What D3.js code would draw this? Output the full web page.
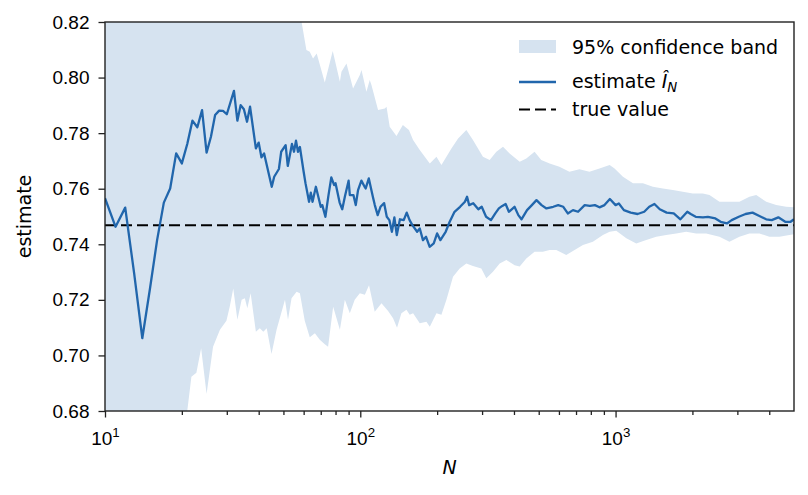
<!DOCTYPE html>
<html>
<head>
<meta charset="utf-8">
<script src="https://cdn.jsdelivr.net/npm/d3@7"></script>
<style>
  body { margin: 0; background: #fff; }
  svg { display: block; font-family: "DejaVu Sans", sans-serif; }
</style>
</head>
<body>
<svg id="chart" width="808" height="495"></svg>
<script>
// running estimate of the integral
const estN = [10,11,12,13,14,15,16,17,18,19,20,21,22,23,24,25,26,27,28,29,30,32,33,34,35,36,37,39,40,41,42,45,46,48,49,51,52,54,55,56,57,58,60,61,63,64,65,67,70,71,73,75,77,79,80,83,85,87,90,91,94,96,98,101,104,105,108,112,114,117,120,124,127,130,133,136,139,143,148,152,156,160,167,171,176,181,187,194,200,206,216,224,234,246,257,262,267,277,290,299,311,325,338,349,360,371,382,402,416,428,450,470,490,513,536,570,596,624,650,681,713,757,793,830,865,905,950,1000,1030,1078,1147,1220,1295,1355,1420,1490,1585,1690,1795,1910,1970,2060,2200,2300,2460,2580,2730,2850,3040,3230,3440,3660,3890,4090,4340,4620,4850,5000];
const estVal = [0.7566,0.7463,0.7532,0.7297,0.7062,0.7240,0.7415,0.7550,0.7601,0.7727,0.7691,0.7761,0.7845,0.7821,0.7883,0.7730,0.7787,0.7865,0.7881,0.7880,0.7868,0.7952,0.7845,0.7901,0.7886,0.7841,0.7895,0.7745,0.7766,0.7713,0.7727,0.7607,0.7643,0.7671,0.7733,0.7757,0.7682,0.7761,0.7733,0.7773,0.7733,0.7750,0.7661,0.7620,0.7553,0.7586,0.7553,0.7607,0.7535,0.7541,0.7499,0.7574,0.7641,0.7613,0.7620,0.7550,0.7526,0.7571,0.7629,0.7577,0.7577,0.7541,0.7595,0.7629,0.7607,0.7601,0.7637,0.7571,0.7541,0.7505,0.7535,0.7548,0.7499,0.7487,0.7445,0.7497,0.7433,0.7490,0.7487,0.7514,0.7487,0.7469,0.7445,0.7457,0.7415,0.7427,0.7391,0.7403,0.7439,0.7415,0.7445,0.7481,0.7517,0.7535,0.7553,0.7571,0.7541,0.7548,0.7526,0.7535,0.7499,0.7487,0.7511,0.7529,0.7538,0.7545,0.7517,0.7535,0.7505,0.7490,0.7523,0.7541,0.7559,0.7541,0.7529,0.7535,0.7541,0.7535,0.7511,0.7523,0.7517,0.7541,0.7538,0.7541,0.7533,0.7541,0.7563,0.7541,0.7547,0.7523,0.7514,0.7509,0.7517,0.7535,0.7545,0.7526,0.7514,0.7511,0.7490,0.7517,0.7509,0.7499,0.7497,0.7499,0.7493,0.7481,0.7475,0.7487,0.7499,0.7509,0.7514,0.7502,0.7490,0.7487,0.7497,0.7481,0.7481,0.7490];

// upper edge of the 95% band (values above 0.82 are cut off in the picture, estimated)
const upN = [10,12,15,20,25,30,40,50,55,58.9,61.5,63.4,65.3,67.5,72.6,78,83.2,84.4,88.3,93.7,99.6,101.1,105.7,108.9,110.6,117.4,124.8,126.7,130.4,138.6,146.8,155.1,161,171,187.2,198.8,207.9,227.5,241.6,260.3,276.3,302.3,321.2,341.2,362.3,384.6,421.2,447.1,481.6,511.6,551.6,602.6,659.7,722,790,865,948,991,1069,1170,1280,1400,1532,1676,1834,2007,2196,2333,2553,2793,3056,3344,3557,3893,4259,4660,5000];
const upVal = [0.89,0.88,0.87,0.86,0.855,0.85,0.84,0.83,0.825,0.8200,0.8099,0.8093,0.8069,0.8087,0.7982,0.8096,0.7985,0.8021,0.8051,0.7961,0.8009,0.8027,0.7949,0.7991,0.7973,0.7883,0.7889,0.7895,0.7823,0.7790,0.7829,0.7811,0.7775,0.7739,0.7691,0.7715,0.7685,0.7745,0.7781,0.7811,0.7775,0.7715,0.7703,0.7733,0.7751,0.7727,0.7697,0.7709,0.7733,0.7703,0.7691,0.7679,0.7661,0.7670,0.7661,0.7673,0.7685,0.7673,0.7643,0.7620,0.7620,0.7607,0.7601,0.7595,0.7589,0.7583,0.7583,0.7577,0.7553,0.7553,0.7553,0.7571,0.7577,0.7553,0.7541,0.7535,0.7533];

// lower edge of the band (below 0.68 estimated)
const loN = [10,12,15,18,20,21,21.8,22.8,23.8,25,26.5,28.2,29.9,30.8,31.8,33,34.3,35.3,36.1,37.2,39,40.4,41.7,43,44.9,47,50.7,52.1,53.8,56.3,58,60.6,63.4,66.4,69.4,72.6,74.8,78.3,83.2,87,91,95.1,99.6,104.2,108.2,113.9,121.1,128.5,134.4,139.3,144.9,151.6,156.2,161,171,181.6,187.2,198.8,207.9,217.5,230.8,245.1,260.3,276.3,297.9,311.7,330.9,351.6,373.4,402.5,421.2,447.1,481.6,519,551.6,586,641,691,745,815,892,948,1006,1102,1205,1319,1443,1579,1728,1891,2069,2264,2553,2793,3056,3344,3660,4005,4383,4796,5000];
const loVal = [0.62,0.635,0.65,0.665,0.675,0.680,0.6923,0.6938,0.7026,0.6861,0.7031,0.7092,0.7125,0.7175,0.7241,0.7128,0.7200,0.7206,0.7170,0.7224,0.7085,0.7098,0.7085,0.7098,0.7005,0.7092,0.7200,0.7128,0.7206,0.7229,0.7224,0.7125,0.7065,0.7080,0.7056,0.7040,0.7031,0.7175,0.7092,0.7200,0.7152,0.7200,0.7224,0.7218,0.7253,0.7157,0.7188,0.7160,0.7134,0.7100,0.7152,0.7164,0.7146,0.7152,0.7116,0.7121,0.7103,0.7152,0.7146,0.7200,0.7283,0.7313,0.7331,0.7322,0.7313,0.7278,0.7301,0.7331,0.7343,0.7325,0.7320,0.7349,0.7373,0.7373,0.7379,0.7379,0.7361,0.7379,0.7397,0.7409,0.7433,0.7445,0.7449,0.7422,0.7403,0.7415,0.7427,0.7433,0.7439,0.7445,0.7439,0.7439,0.7427,0.7409,0.7427,0.7439,0.7439,0.7427,0.7427,0.7433,0.7436];

const trueValue = 0.746824;

const yTicks = [0.68,0.70,0.72,0.74,0.76,0.78,0.80,0.82];
const xMajor = [10,100,1000];
const xMinor = [20,30,40,50,60,70,80,90,200,300,400,500,600,700,800,900,2000,3000,4000];

const legendItems = ["95% confidence band", "estimate", "true value"];

const L = 105, R = 794, T = 22, B = 411;
const fs = 19;
const blue = "#2166ac";

const svg = d3.select("#chart");
const x = d3.scaleLog().domain([10, 5000]).range([L, R]);
const y = d3.scaleLinear().domain([0.68, 0.82]).range([B, T]);

svg.append("defs").append("clipPath").attr("id", "plot")
  .append("rect").attr("x", L).attr("y", T).attr("width", R - L).attr("height", B - T);

const g = svg.append("g").attr("clip-path", "url(#plot)");

// band: upper edge forward, lower edge back
const bandPts = upN.map((n, i) => [x(n), y(upVal[i])])
  .concat(loN.map((n, i) => [x(n), y(loVal[i])]).reverse());
g.append("path")
  .attr("d", d3.line()(bandPts) + "Z")
  .attr("fill", "#d6e3f0");

g.append("line")
  .attr("x1", L).attr("x2", R)
  .attr("y1", y(trueValue)).attr("y2", y(trueValue))
  .attr("stroke", "#000").attr("stroke-width", 2)
  .attr("stroke-dasharray", "11,5");

g.append("path")
  .datum(estN.map((n, i) => [n, estVal[i]]))
  .attr("d", d3.line().x(d => x(d[0])).y(d => y(d[1])))
  .attr("fill", "none").attr("stroke", blue).attr("stroke-width", 2.3)
  .attr("stroke-linejoin", "round");

// axes
const axCol = "#222";
const xAx = svg.append("g").attr("transform", `translate(0,${B})`)
  .call(d3.axisBottom(x).tickValues(xMajor).tickSize(6.5).tickPadding(9).tickFormat(() => ""));
xAx.selectAll(".tick text").each(function(d) {
  const t = d3.select(this).attr("font-size", fs).attr("fill", "#000").attr("dy", "0.95em");
  t.append("tspan").text("10");
  t.append("tspan").attr("font-size", fs * 0.7).attr("dy", "-0.55em").text(Math.round(Math.log10(d)));
});
svg.append("g").attr("transform", `translate(0,${B})`)
  .call(d3.axisBottom(x).tickValues(xMinor).tickSize(4).tickFormat(() => ""))
  .select(".domain").remove();

const yAx = svg.append("g").attr("transform", `translate(${L},0)`)
  .call(d3.axisLeft(y).tickValues(yTicks).tickSize(6.5).tickPadding(9).tickFormat(d3.format(".2f")));
yAx.selectAll(".tick text").attr("font-size", fs).attr("fill", "#000");

svg.selectAll(".domain").remove();
svg.selectAll(".tick line").attr("stroke", axCol).attr("stroke-width", 1.3);

svg.append("rect").attr("x", L).attr("y", T).attr("width", R - L).attr("height", B - T)
  .attr("fill", "none").attr("stroke", axCol).attr("stroke-width", 1.4);

svg.append("text").attr("x", (L + R) / 2).attr("y", 474)
  .attr("text-anchor", "middle").attr("font-size", fs).attr("font-style", "italic").text("N");
svg.append("text").attr("transform", `translate(31,${(T + B) / 2}) rotate(-90)`)
  .attr("text-anchor", "middle").attr("font-size", fs).text("estimate");

// legend
const lg = svg.append("g");
lg.append("rect").attr("x", 519).attr("y", 40).attr("width", 37).attr("height", 13).attr("fill", "#d6e3f0");
lg.append("line").attr("x1", 519).attr("x2", 556).attr("y1", 82).attr("y2", 82)
  .attr("stroke", blue).attr("stroke-width", 2.3);
lg.append("line").attr("x1", 519).attr("x2", 556).attr("y1", 109.5).attr("y2", 109.5)
  .attr("stroke", "#000").attr("stroke-width", 2).attr("stroke-dasharray", "11,5");
const ly = [53.5, 88, 116];
legendItems.forEach((s, i) => {
  const t = lg.append("text").attr("x", 572).attr("y", ly[i]).attr("font-size", fs).text(s);
  if (i === 1) {
    t.append("tspan").text(" ");
    t.append("tspan").attr("font-style", "italic").text("Î");
    t.append("tspan").attr("font-style", "italic").attr("font-size", fs * 0.7).attr("dy", "0.3em").text("N");
  }
});
</script>
</body>
</html>
